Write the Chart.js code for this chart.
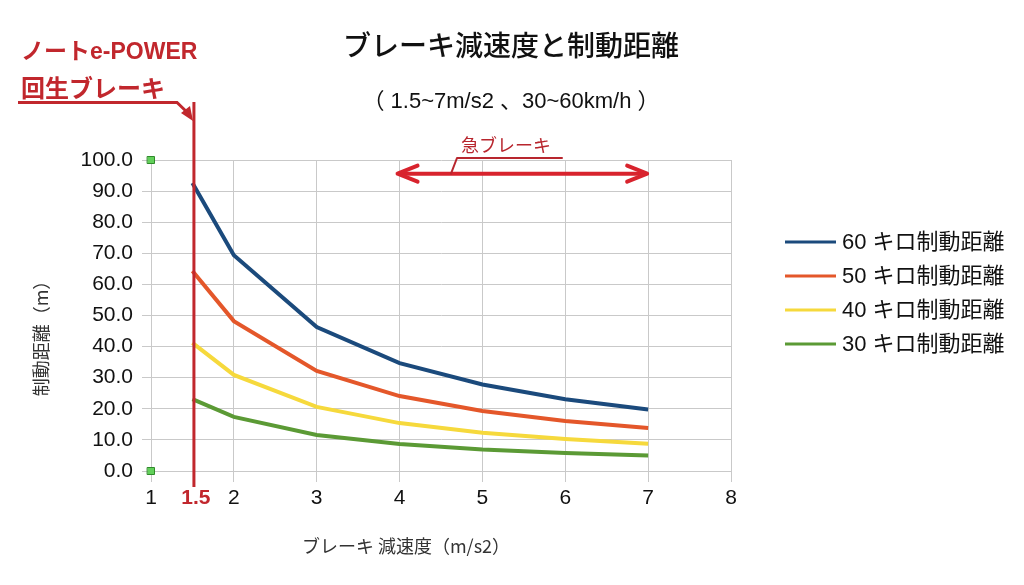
<!DOCTYPE html>
<html><head><meta charset="utf-8">
<script src="https://cdn.jsdelivr.net/npm/chart.js@4/dist/chart.umd.min.js"></script>
<style>html,body{margin:0;padding:0;background:#fff}</style>
</head><body>
<canvas id="c" width="1024" height="585"></canvas>
<script>
// ---- data ----
const decelerations = [1.5, 2, 3, 4, 5, 6, 7];
const dist60 = [92.6, 69.4, 46.3, 34.7, 27.8, 23.1, 19.8];
const dist50 = [64.3, 48.2, 32.2, 24.1, 19.3, 16.1, 13.8];
const dist40 = [41.2, 30.9, 20.6, 15.4, 12.3, 10.3, 8.8];
const dist30 = [23.1, 17.4, 11.6, 8.7, 6.9, 5.8, 5.0];
const seriesLabels = ['60 キロ制動距離', '50 キロ制動距離', '40 キロ制動距離', '30 キロ制動距離'];
const seriesColors = ['#1b4a7c', '#e4572a', '#f6d93c', '#5b9a35'];
const titleText = 'ブレーキ減速度と制動距離';
const subtitleText = '（ 1.5~7m/s2 、30~60km/h ）';
const xTitle = 'ブレーキ 減速度（m/s2）';
const yTitle = '制動距離（m）';
const noteLine1 = 'ノートe-POWER';
const noteLine2 = '回生ブレーキ';
const noteX = 1.5;
const emergencyLabel = '急ブレーキ';
const emergencyRange = [4, 7];

const allSeries = [dist60, dist50, dist40, dist30];
const datasets = allSeries.map((vals, i) => ({
  label: seriesLabels[i],
  data: decelerations.map((x, j) => ({x: x, y: vals[j]})),
  borderColor: seriesColors[i],
  backgroundColor: seriesColors[i],
  borderWidth: 4,
  pointRadius: 0,
  tension: 0,
  fill: false
}));

const LATIN = '"Liberation Sans", "Noto Sans CJK JP", sans-serif';
const RED = '#c1272d';
const RED2 = '#d8232d';

const deco = {
  id: 'deco',
  beforeDraw(chart) {
    const ctx = chart.ctx;
    ctx.save();
    ctx.fillStyle = '#fff';
    ctx.fillRect(0, 0, chart.width, chart.height);
    ctx.restore();
  },
  afterDatasetsDraw(chart) {
    const ctx = chart.ctx;
    const xs = chart.scales.x, ys = chart.scales.y;
    const ca = chart.chartArea;
    ctx.save();
    // vertical red line at 1.5
    const px = xs.getPixelForValue(noteX) + 1.5;
    ctx.strokeStyle = RED;
    ctx.lineWidth = 3;
    ctx.beginPath();
    ctx.moveTo(px, 102);
    ctx.lineTo(px, 487);
    ctx.stroke();
    // leader under note
    ctx.lineWidth = 3;
    ctx.beginPath();
    ctx.moveTo(18, 102.5);
    ctx.lineTo(177, 102.5);
    ctx.lineTo(189, 114);
    ctx.stroke();
    ctx.fillStyle = RED;
    ctx.beginPath();
    ctx.moveTo(193, 121);
    ctx.lineTo(181, 113);
    ctx.lineTo(190, 106);
    ctx.closePath();
    ctx.fill();
    // note text
    ctx.fillStyle = RED;
    ctx.font = 'bold 23px ' + LATIN;
    ctx.textBaseline = 'middle';
    ctx.textAlign = 'left';
    ctx.fillText(noteLine1, 21, 53);
    ctx.font = 'bold 24px "Noto Sans CJK JP", sans-serif';
    ctx.fillText(noteLine2, 21, 88);
    // 1.5 tick label
    ctx.font = 'bold 21px ' + LATIN;
    ctx.textAlign = 'center';
    ctx.fillText('1.5', px + 2, 498);

    // emergency braking double arrow
    const ax1 = xs.getPixelForValue(emergencyRange[0]) - 2;
    const ax2 = xs.getPixelForValue(emergencyRange[1]) - 1;
    const ay = ys.getPixelForValue(95.6);
    ctx.strokeStyle = RED2;
    ctx.lineWidth = 4;
    ctx.lineCap = 'round';
    ctx.lineJoin = 'round';
    ctx.beginPath();
    ctx.moveTo(ax1 + 2, ay);
    ctx.lineTo(ax2 - 2, ay);
    ctx.stroke();
    ctx.beginPath();
    ctx.moveTo(ax1 + 20, ay - 8);
    ctx.lineTo(ax1, ay);
    ctx.lineTo(ax1 + 20, ay + 8);
    ctx.moveTo(ax2 - 20, ay - 8);
    ctx.lineTo(ax2, ay);
    ctx.lineTo(ax2 - 20, ay + 8);
    ctx.stroke();
    // callout
    ctx.lineWidth = 2;
    ctx.strokeStyle = '#b8262e';
    ctx.beginPath();
    ctx.moveTo(562, 158);
    ctx.lineTo(457, 158);
    ctx.lineTo(451, ay);
    ctx.stroke();
    ctx.fillStyle = '#b8262e';
    ctx.font = '18px "Noto Sans CJK JP", sans-serif';
    ctx.textAlign = 'left';
    ctx.fillText(emergencyLabel, 461, 145);

    // green handles
    ctx.fillStyle = '#62d05a';
    ctx.strokeStyle = '#2f8a2a';
    ctx.lineWidth = 1;
    [ys.getPixelForValue(100), ys.getPixelForValue(0)].forEach(y => {
      ctx.fillRect(ca.left - 3.5, y - 3.5, 7, 7);
      ctx.strokeRect(ca.left - 3.5, y - 3.5, 7, 7);
    });
    ctx.restore();
  },
  afterDraw(chart) {
    const ctx = chart.ctx;
    ctx.save();
    ctx.fillStyle = '#111';
    ctx.textAlign = 'center';
    ctx.textBaseline = 'middle';
    ctx.font = '500 28px "Noto Sans CJK JP", sans-serif';
    ctx.fillText(titleText, 511, 45);
    ctx.font = '22px ' + LATIN;
    ctx.fillText(subtitleText, 511, 102);
    // axis titles
    ctx.fillStyle = '#333';
    ctx.font = '18px "Noto Sans CJK JP", sans-serif';
    ctx.fillText(xTitle, 406, 546);
    ctx.save();
    ctx.translate(41, 334);
    ctx.rotate(-Math.PI / 2);
    ctx.fillText(yTitle, 0, 0);
    ctx.restore();
    // legend
    const rows = [242, 276, 310, 344];
    ctx.textAlign = 'left';
    ctx.font = '22px ' + LATIN;
    chart.data.datasets.forEach((ds, i) => {
      ctx.strokeStyle = ds.borderColor;
      ctx.lineWidth = 3;
      ctx.beginPath();
      ctx.moveTo(785, rows[i]);
      ctx.lineTo(836, rows[i]);
      ctx.stroke();
      ctx.fillStyle = '#111';
      ctx.fillText(ds.label, 842, rows[i] + 1);
    });
    ctx.restore();
  }
};

new Chart(document.getElementById('c'), {
  type: 'line',
  data: { datasets: datasets },
  options: {
    responsive: false,
    animation: false,
    layout: { padding: { top: 160, right: 293, bottom: 0, left: 0 } },
    plugins: { legend: { display: false }, title: { display: false }, tooltip: { enabled: false } },
    scales: {
      x: {
        type: 'linear', min: 1, max: 8,
        afterFit(s) { s.height = 114; },
        ticks: { stepSize: 1, padding: 4, color: '#111', font: { size: 21, family: '"Liberation Sans", sans-serif' },
                 callback: v => Number.isInteger(v) ? String(v) : '' },
        grid: { color: '#c9c9c9', lineWidth: 1, tickLength: 11 },
        border: { color: '#c9c9c9' }
      },
      y: {
        min: 0, max: 100,
        afterFit(s) { s.width = 151; },
        ticks: { stepSize: 10, padding: 9, color: '#111', font: { size: 21, family: '"Liberation Sans", sans-serif' },
                 callback: v => v.toFixed(1) },
        grid: { color: '#c9c9c9', lineWidth: 1, tickLength: 9 },
        border: { color: '#c9c9c9' }
      }
    }
  },
  plugins: [deco]
});
</script>
</body></html>
